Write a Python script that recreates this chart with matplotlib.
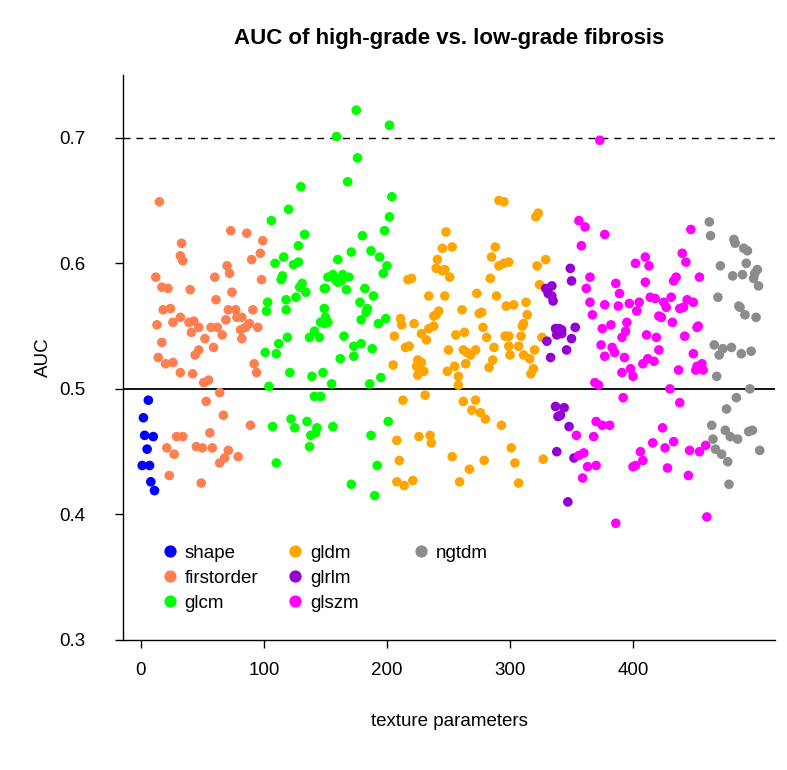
import matplotlib
matplotlib.use("Agg")
import matplotlib.pyplot as plt
from matplotlib.lines import Line2D
from matplotlib.legend import Legend

plt.rcParams['font.family'] = ['Liberation Sans', 'DejaVu Sans']

# ---------------- data: (feature index, AUC) per feature class ----------------
shape_x = [1, 2, 3, 5, 6, 7, 8, 10, 11]
shape_y = [0.439, 0.477, 0.463, 0.452, 0.491, 0.439, 0.426, 0.462, 0.419]

firstorder_x = [12, 13, 14, 15, 17, 17, 18, 20, 21, 22, 23, 24, 26, 26, 27, 29, 32, 32, 32,
                33, 34, 34, 39, 40, 41, 42, 43, 44, 45, 47, 47, 49, 50, 51, 52, 53, 55, 56, 57,
                58, 59, 60, 61, 62, 64, 64, 66, 67, 68, 69, 70, 71, 71, 72, 73, 74, 77, 78, 79,
                81, 82, 82, 85, 86, 88, 89, 90, 91, 92, 94, 95, 97, 98, 99]
firstorder_y = [0.589, 0.551, 0.525, 0.649, 0.581, 0.537, 0.563, 0.520, 0.453, 0.580, 0.431,
                0.564, 0.521, 0.553, 0.448, 0.462, 0.557, 0.513, 0.606, 0.616, 0.602, 0.462,
                0.553, 0.579, 0.545, 0.512, 0.554, 0.527, 0.454, 0.531, 0.549, 0.425, 0.453,
                0.505, 0.540, 0.490, 0.507, 0.465, 0.549, 0.453, 0.533, 0.589, 0.571, 0.549,
                0.497, 0.441, 0.543, 0.479, 0.445, 0.555, 0.598, 0.563, 0.451, 0.592, 0.626,
                0.577, 0.563, 0.557, 0.446, 0.547, 0.557, 0.540, 0.549, 0.624, 0.552, 0.471,
                0.603, 0.563, 0.520, 0.513, 0.549, 0.608, 0.587, 0.618]

glcm_x = [101, 102, 103, 104, 106, 107, 109, 110, 110, 112, 114, 115, 116, 118, 118, 119,
          120, 121, 122, 124, 125, 126, 128, 128, 129, 130, 131, 133, 134, 135, 137, 137,
          138, 139, 141, 141, 142, 143, 145, 146, 146, 148, 149, 149, 149, 150, 150, 152,
          152, 155, 156, 156, 158, 159, 160, 160, 162, 163, 164, 165, 167, 168, 169, 171,
          171, 173, 173, 175, 176, 178, 179, 179, 180, 182, 183, 184, 186, 187, 187, 188,
          189, 190, 192, 193, 194, 195, 197, 198, 199, 200, 201, 202, 202, 204]
glcm_y = [0.529, 0.562, 0.569, 0.502, 0.634, 0.470, 0.600, 0.528, 0.441, 0.536, 0.587,
          0.590, 0.605, 0.571, 0.563, 0.541, 0.643, 0.513, 0.476, 0.599, 0.469, 0.573,
          0.601, 0.614, 0.581, 0.661, 0.584, 0.623, 0.577, 0.474, 0.541, 0.454, 0.463,
          0.510, 0.546, 0.494, 0.465, 0.469, 0.541, 0.553, 0.494, 0.513, 0.580, 0.564,
          0.552, 0.557, 0.580, 0.589, 0.553, 0.504, 0.591, 0.470, 0.587, 0.701, 0.585,
          0.603, 0.524, 0.586, 0.591, 0.542, 0.579, 0.665, 0.589, 0.609, 0.424, 0.526,
          0.534, 0.722, 0.684, 0.569, 0.555, 0.536, 0.622, 0.580, 0.561, 0.564, 0.504,
          0.610, 0.463, 0.532, 0.574, 0.415, 0.439, 0.552, 0.605, 0.509, 0.592, 0.626,
          0.556, 0.598, 0.474, 0.637, 0.710, 0.653]

gldm_x = [205, 206, 208, 208, 210, 211, 212, 213, 214, 215, 217, 218, 220, 221, 222, 224,
          225, 225, 226, 228, 228, 230, 231, 232, 234, 234, 235, 236, 238, 238, 240, 240,
          241, 242, 245, 245, 247, 247, 248, 249, 250, 251, 253, 253, 255, 256, 258, 258,
          259, 261, 262, 262, 263, 264, 265, 267, 268, 269, 272, 272, 273, 275, 276, 277,
          278, 279, 280, 281, 283, 284, 285, 286, 287, 288, 289, 291, 291, 293, 295, 295,
          296, 297, 299, 299, 299, 300, 301, 303, 304, 307, 307, 309, 310, 311, 311, 313,
          314, 316, 317, 319, 320, 321, 322, 323, 324, 326, 327, 329]
gldm_y = [0.519, 0.542, 0.459, 0.426, 0.443, 0.556, 0.551, 0.491, 0.423, 0.533, 0.587,
          0.534, 0.588, 0.427, 0.552, 0.518, 0.523, 0.511, 0.462, 0.521, 0.544, 0.514,
          0.495, 0.539, 0.574, 0.548, 0.463, 0.457, 0.558, 0.550, 0.559, 0.596, 0.603,
          0.562, 0.612, 0.594, 0.595, 0.574, 0.625, 0.514, 0.531, 0.589, 0.613, 0.446,
          0.518, 0.543, 0.510, 0.503, 0.426, 0.563, 0.531, 0.490, 0.545, 0.520, 0.529,
          0.436, 0.527, 0.483, 0.531, 0.491, 0.576, 0.560, 0.481, 0.561, 0.549, 0.443,
          0.476, 0.541, 0.517, 0.588, 0.605, 0.523, 0.533, 0.613, 0.574, 0.650, 0.598,
          0.471, 0.649, 0.600, 0.542, 0.566, 0.601, 0.542, 0.534, 0.527, 0.453, 0.567,
          0.441, 0.534, 0.425, 0.542, 0.550, 0.552, 0.527, 0.569, 0.559, 0.524, 0.512,
          0.516, 0.531, 0.637, 0.598, 0.640, 0.583, 0.541, 0.444, 0.603]

glrlm_x = [329, 330, 331, 333, 334, 334, 335, 337, 337, 338, 338, 339, 340, 341, 342, 342,
           344, 346, 347, 348, 349, 350, 350, 352, 353]
glrlm_y = [0.580, 0.538, 0.576, 0.525, 0.582, 0.574, 0.570, 0.548, 0.486, 0.543, 0.450,
           0.478, 0.548, 0.479, 0.547, 0.544, 0.485, 0.531, 0.410, 0.470, 0.596, 0.586,
           0.540, 0.445, 0.549]

glszm_x = [354, 356, 356, 358, 359, 360, 361, 362, 363, 365, 365, 367, 368, 369, 370, 370,
           372, 373, 374, 375, 375, 377, 377, 377, 381, 382, 383, 385, 386, 386, 388, 389,
           391, 391, 392, 393, 394, 395, 397, 398, 400, 400, 402, 402, 403, 405, 406, 408,
           408, 410, 410, 411, 412, 413, 414, 416, 417, 418, 419, 421, 421, 423, 424, 425,
           426, 427, 428, 430, 431, 432, 433, 433, 435, 437, 438, 438, 440, 441, 442, 443,
           444, 445, 446, 447, 449, 449, 451, 452, 452, 453, 454, 454, 456, 457, 459, 460]
glszm_y = [0.463, 0.634, 0.447, 0.614, 0.429, 0.449, 0.629, 0.580, 0.438, 0.589, 0.569,
           0.559, 0.462, 0.505, 0.474, 0.439, 0.503, 0.698, 0.535, 0.548, 0.471, 0.623,
           0.567, 0.526, 0.471, 0.551, 0.533, 0.529, 0.584, 0.393, 0.566, 0.576, 0.513,
           0.541, 0.493, 0.525, 0.546, 0.553, 0.568, 0.516, 0.510, 0.438, 0.600, 0.439,
           0.562, 0.569, 0.450, 0.520, 0.443, 0.605, 0.585, 0.543, 0.524, 0.598, 0.573,
           0.457, 0.522, 0.572, 0.541, 0.558, 0.531, 0.557, 0.469, 0.569, 0.453, 0.565,
           0.437, 0.500, 0.573, 0.553, 0.458, 0.586, 0.589, 0.515, 0.564, 0.489, 0.608,
           0.565, 0.542, 0.601, 0.571, 0.431, 0.451, 0.627, 0.569, 0.528, 0.515, 0.549,
           0.518, 0.550, 0.589, 0.450, 0.520, 0.515, 0.455, 0.398]

ngtdm_x = [462, 463, 464, 465, 466, 467, 468, 469, 470, 471, 472, 473, 475, 476, 477, 478,
           479, 480, 481, 482, 483, 484, 485, 486, 487, 488, 489, 490, 491, 492, 493, 494,
           495, 496, 497, 498, 499, 500, 501, 502, 503]
ngtdm_y = [0.633, 0.622, 0.471, 0.460, 0.535, 0.452, 0.510, 0.573, 0.527, 0.598, 0.448,
           0.532, 0.467, 0.484, 0.442, 0.424, 0.462, 0.533, 0.590, 0.619, 0.616, 0.493,
           0.460, 0.566, 0.565, 0.528, 0.591, 0.612, 0.559, 0.600, 0.610, 0.466, 0.500,
           0.530, 0.467, 0.588, 0.592, 0.557, 0.595, 0.582, 0.451]

groups = ["shape", "firstorder", "glcm", "gldm", "glrlm", "glszm", "ngtdm"]
colors = ["#0000FF", "#FF7F50", "#00FF00", "#FFA500", "#9400D3", "#FF00FF", "#8C8C8C"]
xs = [shape_x, firstorder_x, glcm_x, gldm_x, glrlm_x, glszm_x, ngtdm_x]
ys = [shape_y, firstorder_y, glcm_y, gldm_y, glrlm_y, glszm_y, ngtdm_y]

xticks = [0, 100, 200, 300, 400]
yticks = [0.3, 0.4, 0.5, 0.6, 0.7]

# ---------------- figure ----------------
W, H = 787, 770
fig = plt.figure(figsize=(W / 100, H / 100), dpi=100)
ax = fig.add_axes([123 / W, 130 / H, 652 / W, 565 / H])

for x, y, c in zip(xs, ys, colors):
    ax.scatter(x, y, s=48, color=c, edgecolors='none', zorder=3)

ax.axhline(0.5, color='black', lw=1.3, zorder=2)
ax.axhline(0.7, color='black', lw=1.0, dashes=(5, 4.3), zorder=2)

ax.set_xlim(-14.6, 515.4)
ax.set_ylim(0.3, 0.75)
ax.set_xticks(xticks)
ax.set_xticklabels([str(t) for t in xticks])
ax.set_yticks(yticks)
ax.set_yticklabels([f"{t:.1f}" for t in yticks])
for s in ['top', 'right']:
    ax.spines[s].set_visible(False)
for s in ['left', 'bottom']:
    ax.spines[s].set_linewidth(1.0)
ax.tick_params(axis='both', direction='out', length=6, width=1.0, labelsize=13.5)
ax.tick_params(axis='x', pad=10)
ax.tick_params(axis='y', pad=21)

ax.set_xlabel("texture parameters", fontsize=13.5, labelpad=24)
ax.set_ylabel("AUC", fontsize=13.5, labelpad=5)
ax.set_title("AUC of high-grade vs. low-grade fibrosis", fontsize=16, fontweight='bold', pad=22)

# legend: three columns, each as its own legend
cols = [[0, 1, 2], [3, 4, 5], [6]]
anchors = [(0.060, 0.169), (0.252, 0.169), (0.446, 0.169)]
for idxs, anc in zip(cols, anchors):
    handles = [Line2D([], [], marker='o', ls='none', color=colors[i], markersize=7.8)
               for i in idxs]
    leg = Legend(ax, handles, [groups[i] for i in idxs], loc='upper left',
                 bbox_to_anchor=anc, frameon=False, fontsize=13.5,
                 handlelength=0.8, handletextpad=0.4, labelspacing=0.43,
                 borderaxespad=0, borderpad=0)
    ax.add_artist(leg)

fig.savefig("out.png", dpi=100)
